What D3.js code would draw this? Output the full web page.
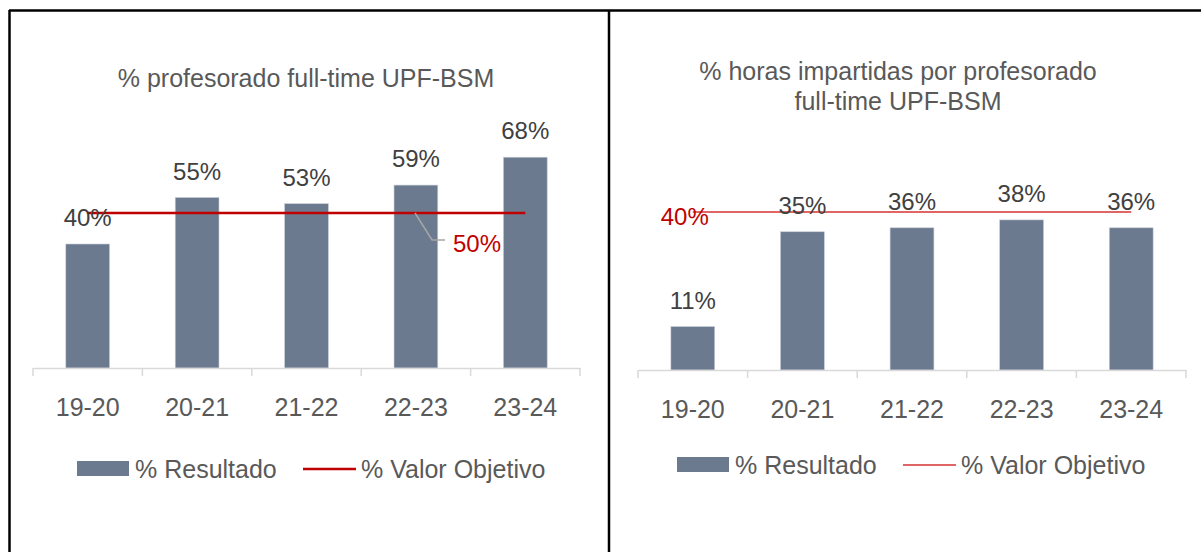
<!DOCTYPE html>
<html>
<head>
<meta charset="utf-8">
<script src="https://cdn.jsdelivr.net/npm/d3@7"></script>
<style>
  body { margin: 0; background: #fff; }
  svg { display: block; font-family: 'Liberation Sans', Arial, sans-serif; }
</style>
</head>
<body>
<div id="chart"></div>
<script>
const categories = ['19-20', '20-21', '21-22', '22-23', '23-24'];
const resultadoProfesorado = [40, 55, 53, 59, 68];
const objetivoProfesorado = [50, 50, 50, 50, 50];
const resultadoHoras = [11, 35, 36, 38, 36];
const objetivoHoras = [40, 40, 40, 40, 40];

const width = 1201;
const height = 552;

const svg = d3.select('#chart')
  .append('svg')
  .attr('width', width)
  .attr('height', height);

// frame lines
svg.append('line').attr('x1', 9).attr('x2', width).attr('y1', 10.5).attr('y2', 10.5)
  .attr('stroke', '#000').attr('stroke-width', 2.5);
svg.append('line').attr('x1', 9.5).attr('x2', 9.5).attr('y1', 10).attr('y2', height)
  .attr('stroke', '#000').attr('stroke-width', 2.5);
svg.append('line').attr('x1', 609).attr('x2', 609).attr('y1', 10).attr('y2', height)
  .attr('stroke', '#000').attr('stroke-width', 2.5);

function drawChart(opts) {
  const g = svg.append('g');

  const x = d3.scaleBand()
    .domain(categories)
    .range(opts.xRange)
    .paddingInner(0.6)
    .paddingOuter(0.3);

  const y = d3.scaleLinear()
    .domain(opts.yDomain)
    .range(opts.yRange);

  // title
  const title = g.append('text')
    .attr('text-anchor', 'middle')
    .attr('font-size', 25)
    .attr('fill', '#595959');
  opts.title.forEach((t, i) => {
    title.append('tspan')
      .attr('x', opts.titleX)
      .attr('y', opts.titleY + i * 30)
      .text(t);
  });

  // bars
  const data = categories.map((c, i) => ({ cat: c, value: opts.values[i], target: opts.targets[i] }));

  g.append('g')
    .selectAll('rect')
    .data(data)
    .enter().append('rect')
    .attr('x', d => x(d.cat))
    .attr('y', d => y(d.value))
    .attr('width', x.bandwidth())
    .attr('height', d => y(0) - y(d.value))
    .attr('fill', '#6b7a8f')
    .attr('stroke', '#c9ced6')
    .attr('stroke-width', 0.6);

  // axis
  const axis = g.append('g')
    .attr('transform', `translate(0,${y(0)})`)
    .call(d3.axisBottom(x).tickSize(0).tickPadding(30).tickSizeOuter(0));
  axis.select('.domain').attr('stroke', '#d9d9d9').attr('stroke-width', 1.5);
  axis.selectAll('text')
    .attr('font-size', 25)
    .attr('font-family', 'Liberation Sans, Arial, sans-serif')
    .attr('fill', '#595959');

  const bounds = d3.range(categories.length + 1).map(i => opts.xRange[0] + i * x.step());
  axis.selectAll('.bound')
    .data(bounds)
    .enter().append('line')
    .attr('class', 'bound')
    .attr('x1', d => d).attr('x2', d => d)
    .attr('y1', 0).attr('y2', 8)
    .attr('stroke', '#d9d9d9')
    .attr('stroke-width', 1.5);

  // target line
  const line = d3.line()
    .x(d => x(d.cat) + x.bandwidth() / 2)
    .y(d => y(d.target));

  g.append('path')
    .datum(data)
    .attr('d', line)
    .attr('fill', 'none')
    .attr('stroke', opts.lineColor)
    .attr('stroke-width', opts.lineWidth);

  // value labels
  g.append('g')
    .selectAll('text')
    .data(data)
    .enter().append('text')
    .attr('x', d => x(d.cat) + x.bandwidth() / 2)
    .attr('y', d => y(d.value) - 18)
    .attr('text-anchor', 'middle')
    .attr('font-size', 24)
    .attr('fill', '#404040')
    .text(d => d.value + '%');

  opts.targetLabel(g, x, y, data);

  // legend
  const lg = g.append('g').attr('transform', `translate(${opts.legendX},${opts.legendY})`);
  lg.append('rect')
    .attr('x', 0).attr('y', -8)
    .attr('width', 52).attr('height', 15)
    .attr('fill', '#6b7a8f');
  lg.append('text')
    .attr('x', 58).attr('y', 9)
    .attr('font-size', 25)
    .attr('fill', '#595959')
    .text('% Resultado');
  lg.append('line')
    .attr('x1', 226).attr('x2', 279)
    .attr('y1', 0).attr('y2', 0)
    .attr('stroke', opts.lineColor)
    .attr('stroke-width', opts.lineWidth);
  lg.append('text')
    .attr('x', 284).attr('y', 9)
    .attr('font-size', 25)
    .attr('fill', '#595959')
    .text('% Valor Objetivo');
}

drawChart({
  values: resultadoProfesorado,
  targets: objetivoProfesorado,
  xRange: [33, 580],
  yDomain: [0, 80],
  yRange: [368, 120],
  title: ['% profesorado full-time UPF-BSM'],
  titleX: 306,
  titleY: 87,
  lineColor: '#c00000',
  lineWidth: 2.5,
  legendX: 77,
  legendY: 469,
  targetLabel: (g, x, y, data) => {
    const d = data[3];
    const x0 = x(d.cat) + 21;
    const y0 = y(d.target);
    g.append('path')
      .attr('d', `M${x0},${y0} L${x0 + 17},${y0 + 27} L${x0 + 30},${y0 + 27}`)
      .attr('fill', 'none')
      .attr('stroke', '#a6a6a6')
      .attr('stroke-width', 1.5);
    g.append('text')
      .attr('x', x0 + 38)
      .attr('y', y0 + 39)
      .attr('font-size', 24)
      .attr('fill', '#c00000')
      .text(d.target + '%');
  }
});

drawChart({
  values: resultadoHoras,
  targets: objetivoHoras,
  xRange: [638, 1186],
  yDomain: [0, 50],
  yRange: [370, 172.5],
  title: ['% horas impartidas por profesorado', 'full-time UPF-BSM'],
  titleX: 898,
  titleY: 80,
  lineColor: '#e06666',
  lineWidth: 2,
  legendX: 677,
  legendY: 465,
  targetLabel: (g, x, y, data) => {
    const d = data[0];
    g.append('text')
      .attr('x', x(d.cat) + x.bandwidth() / 2 - 8)
      .attr('y', y(d.target) + 13)
      .attr('text-anchor', 'middle')
      .attr('font-size', 24)
      .attr('fill', '#c00000')
      .text(d.target + '%');
  }
});
</script>
</body>
</html>
